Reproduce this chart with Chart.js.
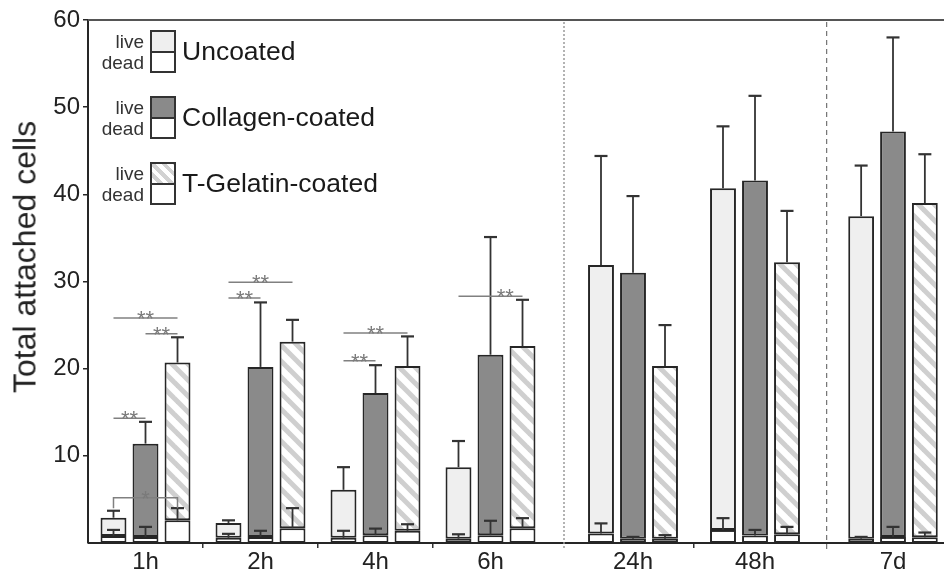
<!DOCTYPE html>
<html>
<head>
<meta charset="utf-8">
<script src="https://cdn.jsdelivr.net/npm/chart.js@4.4.1/dist/chart.umd.min.js"></script>
<style>
  html, body { margin: 0; padding: 0; background: #fff; }
  #wrap { position: relative; width: 944px; height: 579px; overflow: hidden; font-family: 'Liberation Sans', Arial, sans-serif; }
  canvas { position: absolute; top: 0; }
  .ytitle { position: absolute; left: 25px; top: 257px; transform: translate(-50%, -50%) rotate(-90deg); font-size: 32px; color: #222; white-space: nowrap; }
  .leg { position: absolute; left: 96px; height: 43px; display: flex; align-items: center; }
  .leg .ld { width: 48px; text-align: right; font-size: 19px; line-height: 21px; color: #333; margin-right: 6px; }
  .leg .box { box-sizing: border-box; width: 26px; height: 43px; border: 2px solid #333; display: flex; flex-direction: column; }
  .leg .box div { flex: 1; }
  .leg .box .live { border-bottom: 2px solid #333; }
  .leg .name { margin-left: 6px; font-size: 26.5px; color: #1a1a1a; }
</style>
</head>
<body>
<div id="wrap">
  <canvas id="p0"></canvas>
  <canvas id="p1"></canvas>
  <canvas id="p2"></canvas>
  <div class="ytitle">Total attached cells</div>
  <div id="legend"></div>
</div>
<script>
// --- data ---
const CATEGORIES = ['1h', '2h', '4h', '6h', '24h', '48h', '7d'];
const SERIES = ['Uncoated', 'Collagen-coated', 'T-Gelatin-coated'];
const Y_TICKS = [10, 20, 30, 40, 50, 60];

// total attached cells (bar top) and its error
const TOTAL_UNCOATED = [2.9, 2.3, 6.1, 8.7, 31.9, 40.7, 37.5];
const TOTAL_COLLAGEN = [11.4, 20.2, 17.2, 21.6, 31.0, 41.6, 47.2];
const TOTAL_TGELATIN = [20.7, 23.1, 20.3, 22.6, 20.3, 32.2, 39.0];
const TOTAL_UNCOATED_ERR = [0.8, 0.3, 2.6, 3.0, 12.5, 7.1, 5.8];
const TOTAL_COLLAGEN_ERR = [2.5, 7.4, 3.2, 13.5, 8.8, 9.7, 10.8];
const TOTAL_TGELATIN_ERR = [2.9, 2.5, 3.4, 5.3, 4.7, 5.9, 5.6];

// dead cells (lower white segment) and its error
const DEAD_UNCOATED = [0.8, 0.6, 0.6, 0.5, 1.1, 1.5, 0.5];
const DEAD_COLLAGEN = [0.7, 0.7, 0.9, 0.9, 0.5, 0.85, 0.7];
const DEAD_TGELATIN = [2.6, 1.7, 1.4, 1.7, 0.5, 1.0, 0.65];
const DEAD_UNCOATED_ERR = [0.7, 0.45, 0.8, 0.5, 1.15, 1.35, 0.2];
const DEAD_COLLAGEN_ERR = [1.15, 0.7, 0.75, 1.65, 0.2, 0.65, 1.15];
const DEAD_TGELATIN_ERR = [1.4, 2.3, 0.75, 1.15, 0.4, 0.85, 0.55];

// significance brackets: series a vs series b at a time point
const SIGNIF = [
  { at: '1h', a: 0, b: 2, y: 25.8, mark: '**' },
  { at: '1h', a: 1, b: 2, y: 24.0, mark: '**' },
  { at: '1h', a: 0, b: 1, y: 14.3, mark: '**' },
  { at: '1h', a: 0, b: 2, y: 5.2, mark: '*', legs: true },
  { at: '2h', a: 0, b: 2, y: 29.9, mark: '**' },
  { at: '2h', a: 0, b: 1, y: 28.1, mark: '**' },
  { at: '4h', a: 0, b: 2, y: 24.1, mark: '**' },
  { at: '4h', a: 0, b: 1, y: 20.9, mark: '**' },
  { at: '6h', a: 0, b: 2, y: 28.3, mark: '**', labelAt: 0.73 },
];

const TOTALS = [TOTAL_UNCOATED, TOTAL_COLLAGEN, TOTAL_TGELATIN];
const TOTALS_ERR = [TOTAL_UNCOATED_ERR, TOTAL_COLLAGEN_ERR, TOTAL_TGELATIN_ERR];
const DEADS = [DEAD_UNCOATED, DEAD_COLLAGEN, DEAD_TGELATIN];
const DEADS_ERR = [DEAD_UNCOATED_ERR, DEAD_COLLAGEN_ERR, DEAD_TGELATIN_ERR];

// --- layout: three panels separated by dotted lines ---
const PANELS = [
  { from: 0, to: 4, left: 0, width: 548, pad: [0, 0], cp: 0.835, sep: null },
  { from: 4, to: 6, left: 548, width: 278, pad: [24, 10], cp: 0.787, sep: { x: 16, dash: [2, 2], color: '#9a9a9a' } },
  { from: 6, to: 7, left: 826, width: 134, pad: [8, 8], cp: 0.81, sep: { x: 0.5, dash: [5, 4], color: '#777' } },
];

const FONT = "'Liberation Sans', Arial, sans-serif";
const EDGE = '#262626';

Chart.defaults.font.family = FONT;
Chart.defaults.color = '#222';

function makeHatch() {
  const s = 16;
  const c = document.createElement('canvas');
  c.width = c.height = s;
  const g = c.getContext('2d');
  g.fillStyle = '#fff';
  g.fillRect(0, 0, s, s);
  g.strokeStyle = '#cfcfcf';
  g.lineWidth = 5;
  for (const o of [-s, 0, s]) {
    g.beginPath();
    g.moveTo(o - s, -s);
    g.lineTo(o + 2 * s, 2 * s);
    g.stroke();
  }
  return g.createPattern(c, 'repeat');
}

const LIVE_FILL = ['#efefef', '#8a8a8a', makeHatch()];
const LEGEND_FILL = ['#efefef', '#8a8a8a', 'repeating-linear-gradient(45deg, #fff 0 4px, #d2d2d2 4px 8px)'];

// legend
const legend = document.getElementById('legend');
legend.innerHTML = SERIES.map((name, k) => `
  <div class="leg" style="top:${30 + k * 66}px">
    <div class="ld">live<br>dead</div>
    <div class="box"><div class="live" style="background:${LEGEND_FILL[k]}"></div><div class="dead"></div></div>
    <div class="name">${name}</div>
  </div>`).join('');

const errorBars = {
  id: 'errorBars',
  afterDatasetsDraw(chart) {
    const { ctx } = chart;
    const y = chart.scales.y;
    ctx.save();
    ctx.strokeStyle = '#333';
    chart.data.datasets.forEach((ds, i) => {
      chart.getDatasetMeta(i).data.forEach((bar, j) => {
        const yTop = y.getPixelForValue(ds.tops[j] + ds.errors[j]);
        ctx.lineWidth = 1.8;
        ctx.beginPath();
        ctx.moveTo(bar.x, bar.y);
        ctx.lineTo(bar.x, yTop);
        ctx.stroke();
        ctx.lineWidth = 2.2;
        ctx.beginPath();
        ctx.moveTo(bar.x - 6.5, yTop);
        ctx.lineTo(bar.x + 6.5, yTop);
        ctx.stroke();
      });
    });
    ctx.restore();
  }
};

const signifPlugin = {
  id: 'signif',
  afterDatasetsDraw(chart) {
    const { ctx } = chart;
    const y = chart.scales.y;
    const labels = chart.data.labels;
    ctx.save();
    ctx.strokeStyle = '#808080';
    ctx.fillStyle = '#7a7a7a';
    ctx.lineWidth = 1.5;
    ctx.font = '22px ' + FONT;
    ctx.textAlign = 'center';
    ctx.textBaseline = 'alphabetic';
    SIGNIF.forEach(s => {
      const ci = labels.indexOf(s.at);
      if (ci < 0) return;
      const x1 = chart.getDatasetMeta(s.a * 2 + 1).data[ci].x;
      const x2 = chart.getDatasetMeta(s.b * 2 + 1).data[ci].x;
      const py = y.getPixelForValue(s.y);
      ctx.beginPath();
      if (s.legs) {
        const leg = y.getPixelForValue(s.y - 1.2);
        ctx.moveTo(x1, leg);
        ctx.lineTo(x1, py);
        ctx.lineTo(x2, py);
        ctx.lineTo(x2, leg);
      } else {
        ctx.moveTo(x1, py);
        ctx.lineTo(x2, py);
      }
      ctx.stroke();
      const f = s.labelAt ?? 0.5;
      ctx.fillText(s.mark, x1 + (x2 - x1) * f, py + 8);
    });
    ctx.restore();
  }
};

function framePlugin(p) {
  return {
    id: 'frame',
    afterDraw(chart) {
      const { ctx, chartArea: ca, width } = chart;
      const x0 = p.left === 0 ? ca.left : 0;
      ctx.save();
      ctx.lineWidth = 2;
      ctx.strokeStyle = '#555';
      ctx.beginPath();
      ctx.moveTo(x0, ca.top);
      ctx.lineTo(width, ca.top);
      ctx.stroke();
      ctx.strokeStyle = EDGE;
      ctx.beginPath();
      ctx.moveTo(x0, ca.bottom);
      ctx.lineTo(width, ca.bottom);
      ctx.stroke();
      if (p.sep) {
        ctx.lineWidth = 1.5;
        ctx.strokeStyle = p.sep.color;
        ctx.setLineDash(p.sep.dash);
        ctx.beginPath();
        ctx.moveTo(p.sep.x, ca.top + 2);
        ctx.lineTo(p.sep.x, ca.bottom + 6);
        ctx.stroke();
      }
      ctx.restore();
    }
  };
}

function buildDatasets(p) {
  const ds = [];
  SERIES.forEach((name, k) => {
    const dead = DEADS[k].slice(p.from, p.to);
    const total = TOTALS[k].slice(p.from, p.to);
    ds.push({
      label: name + ' (dead)', stack: 's' + k,
      data: dead, tops: dead, errors: DEADS_ERR[k].slice(p.from, p.to),
      backgroundColor: '#fff', borderColor: EDGE, borderWidth: 2, borderSkipped: false,
    });
    ds.push({
      label: name + ' (live)', stack: 's' + k,
      data: total.map((t, i) => t - dead[i]), tops: total, errors: TOTALS_ERR[k].slice(p.from, p.to),
      backgroundColor: LIVE_FILL[k], borderColor: EDGE, borderWidth: 2, borderSkipped: false,
    });
  });
  return ds;
}

PANELS.forEach((p, idx) => {
  const canvas = document.getElementById('p' + idx);
  canvas.width = p.width;
  canvas.height = 579;
  canvas.style.left = p.left + 'px';
  const labels = CATEGORIES.slice(p.from, p.to);
  const plugins = [errorBars, framePlugin(p)];
  if (idx === 0) plugins.push(signifPlugin);
  const withAxis = idx === 0;

  new Chart(canvas.getContext('2d'), {
    type: 'bar',
    data: { labels, datasets: buildDatasets(p) },
    options: {
      responsive: false,
      animation: false,
      devicePixelRatio: 1,
      layout: { padding: { top: 20, left: p.pad[0], right: p.pad[1], bottom: 0 } },
      plugins: { legend: { display: false }, tooltip: { enabled: false } },
      datasets: { bar: { categoryPercentage: p.cp, barPercentage: 0.81 } },
      scales: {
        x: {
          stacked: true,
          offset: true,
          border: { display: false },
          grid: {
            offset: true,
            drawOnChartArea: false,
            drawTicks: true,
            tickLength: 5,
            lineWidth: 1.5,
            tickColor: c => (c.type !== 'tick' || c.index === 0) ? 'rgba(0,0,0,0)' : '#333',
          },
          ticks: { font: { size: 24 }, color: '#222', padding: 0 },
          afterFit: s => { s.height = 36; },
        },
        y: {
          display: withAxis,
          stacked: true,
          min: 0,
          max: 60,
          afterBuildTicks: s => { s.ticks = Y_TICKS.map(v => ({ value: v })); },
          ticks: { font: { size: 24 }, color: '#222', padding: 3 },
          grid: { drawOnChartArea: false, tickLength: 5, color: EDGE, lineWidth: 1.5 },
          border: { color: EDGE, width: 2 },
          afterFit: s => { s.width = withAxis ? 88 : 0; },
        }
      }
    },
    plugins
  });
});
</script>
</body>
</html>
